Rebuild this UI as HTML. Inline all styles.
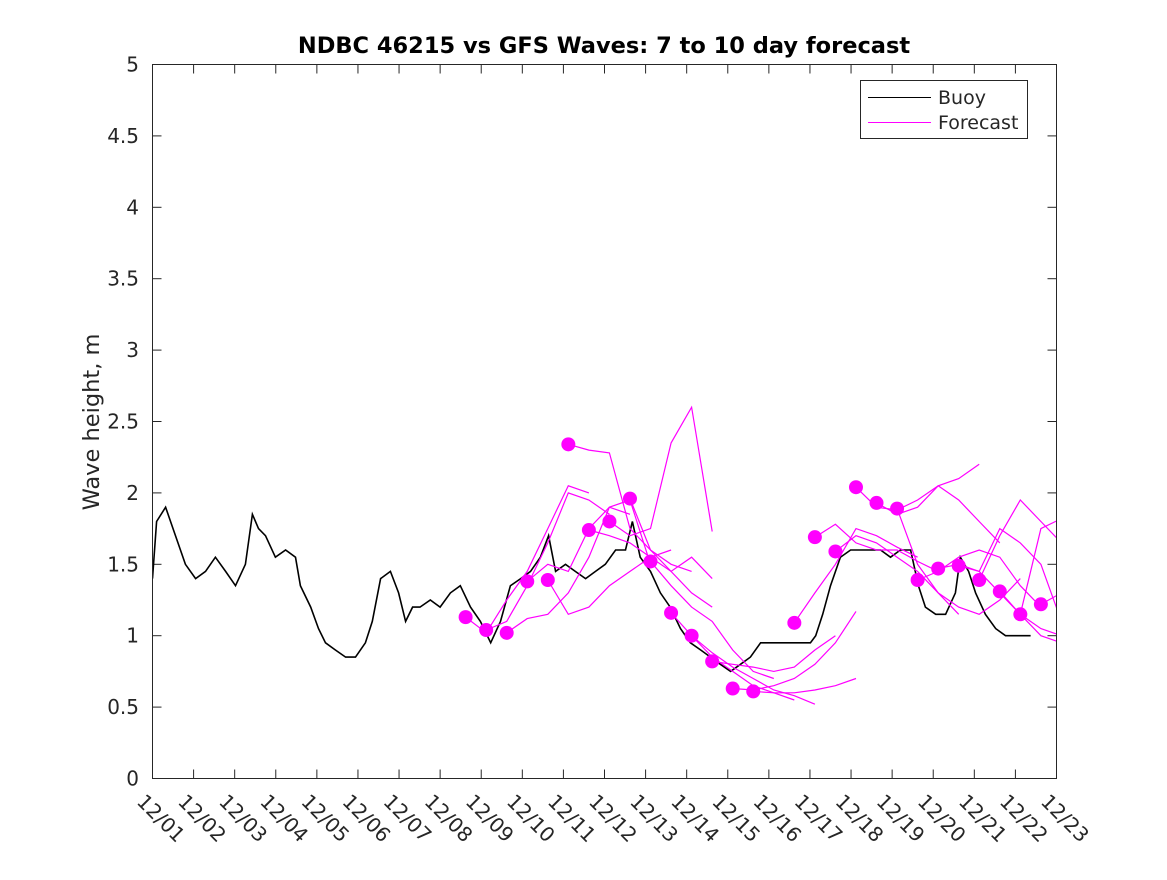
<!DOCTYPE html>
<html><head><meta charset="utf-8"><style>
body{margin:0;background:#fff;}
svg text{font-family:"DejaVu Sans","Liberation Sans",sans-serif;fill:#262626;}
</style></head><body>
<svg id="chart" width="1167" height="875" xmlns="http://www.w3.org/2000/svg">
<rect width="1167" height="875" fill="#fff"/>
<defs><clipPath id="clip"><rect x="152.5" y="64.5" width="904" height="714"/></clipPath></defs>
<text x="604" y="53" text-anchor="middle" font-size="22.5" font-weight="bold" style="fill:#000">NDBC 46215 vs GFS Waves: 7 to 10 day forecast</text>
<text transform="translate(99,422) rotate(-90)" text-anchor="middle" font-size="22.5">Wave height, m</text>
<g id="axes"></g>
<g id="series" clip-path="url(#clip)"></g>
<rect x="152.5" y="64.5" width="904" height="714" fill="none" stroke="#262626" stroke-width="1"/>
<g>
<rect x="860.5" y="80.5" width="167" height="58" fill="#fff" stroke="#262626"/>
<line x1="868" y1="97.5" x2="931" y2="97.5" stroke="#000"/>
<text x="938" y="104" font-size="19">Buoy</text>
<line x1="868" y1="122.5" x2="931" y2="122.5" stroke="#f0f"/>
<text x="938" y="129" font-size="19">Forecast</text>
</g>
</svg>
<script>
const xTickLabels=["12/01","12/02","12/03","12/04","12/05","12/06","12/07","12/08","12/09","12/10","12/11","12/12","12/13","12/14","12/15","12/16","12/17","12/18","12/19","12/20","12/21","12/22","12/23"];
const yTicks=[0,0.5,1,1.5,2,2.5,3,3.5,4,4.5,5];
const yTickLabels=["0","0.5","1","1.5","2","2.5","3","3.5","4","4.5","5"];
const buoyDays=[0,0.1,0.32,0.56,0.8,1.05,1.29,1.53,1.78,2.02,2.26,2.43,2.58,2.75,2.99,3.24,3.48,3.6,3.85,4.04,4.21,4.45,4.7,4.94,5.18,5.35,5.55,5.79,5.99,6.16,6.33,6.51,6.76,7.0,7.25,7.49,7.74,7.98,8.23,8.47,8.71,8.96,9.2,9.44,9.64,9.81,10.05,10.29,10.54,10.78,11.02,11.27,11.51,11.68,11.87,12.12,12.36,12.6,12.85,13.09,13.34,13.58,13.82,14.07,14.31,14.55,14.8,15.04,15.28,15.53,15.77,16.01,16.14,16.31,16.5,16.74,16.99,17.23,17.47,17.72,17.96,18.2,18.45,18.64,18.81,19.06,19.3,19.54,19.66,19.86,20.03,20.27,20.52,20.76,21.0,21.25,21.37];
const buoyValues=[1.4,1.8,1.9,1.7,1.5,1.4,1.45,1.55,1.45,1.35,1.5,1.85,1.75,1.7,1.55,1.6,1.55,1.35,1.2,1.05,0.95,0.9,0.85,0.85,0.95,1.1,1.4,1.45,1.3,1.1,1.2,1.2,1.25,1.2,1.3,1.35,1.2,1.1,0.95,1.1,1.35,1.4,1.45,1.55,1.7,1.45,1.5,1.45,1.4,1.45,1.5,1.6,1.6,1.8,1.55,1.45,1.3,1.2,1.05,0.95,0.9,0.85,0.8,0.75,0.8,0.85,0.95,0.95,0.95,0.95,0.95,0.95,1.0,1.15,1.35,1.55,1.6,1.6,1.6,1.6,1.55,1.6,1.6,1.35,1.2,1.15,1.15,1.3,1.55,1.45,1.3,1.15,1.05,1.0,1.0,1.0,1.0];
const forecastStart=7.62;
const forecastStep=0.5;
const dotValues=[1.13,1.04,1.02,1.38,1.39,2.34,1.74,1.80,1.96,1.52,1.16,1.00,0.82,0.63,0.61,null,1.09,1.69,1.59,2.04,1.93,1.89,1.39,1.47,1.49,1.39,1.31,1.15,1.22];
const forecastLines=[
[1.13,1.02,1.25,1.45,1.75,2.05,2.0],
[1.04,1.10,1.35,1.65,2.0,1.95,1.85],
[1.02,1.12,1.15,1.3,1.55,1.9,1.85],
[1.38,1.50,1.45,1.75,1.9,1.95,1.5],
[1.39,1.15,1.2,1.35,1.45,1.55,1.6],
[2.34,2.3,2.28,1.75,1.6,1.5,1.45],
[1.74,1.70,1.65,1.55,1.45,1.3,1.2],
[1.80,1.7,1.75,2.35,2.6,1.73],
[1.96,1.6,1.45,1.55,1.4],
[1.52,1.35,1.2,1.1,0.9,0.75,0.7],
[1.16,1.0,0.85,0.75,0.65,0.6,0.55],
[1.00,0.88,0.78,0.7,0.62,0.58,0.52],
[0.82,0.8,0.78,0.75,0.78,0.9,1.0],
[0.63,0.62,0.65,0.7,0.8,0.95,1.17],
[0.61,0.6,0.6,0.62,0.65,0.7],
null,
[1.09,1.3,1.5,1.75,1.7,1.62,1.55],
[1.69,1.78,1.65,1.6,1.6,1.52,1.45],
[1.59,1.7,1.65,1.55,1.45,1.3,1.15],
[2.04,1.9,1.88,1.95,2.05,2.1,2.2],
[1.93,1.85,1.9,2.05,1.95,1.8,1.65],
[1.89,1.5,1.3,1.2,1.15,1.25,1.4],
[1.39,1.45,1.55,1.6,1.55,1.35,1.2],
[1.47,1.5,1.45,1.75,1.65,1.5,1.1],
[1.49,1.45,1.3,1.15,1.0,0.95,1.0],
[1.39,1.7,1.95,1.8,1.65,2.1,1.3],
[1.31,1.15,1.05,1.0,1.05,1.15],
[1.15,1.75,1.82,1.76],
[1.22,1.3,1.42]
];
const NS="http://www.w3.org/2000/svg";
const X0=152.5,X1=1056.5,Y0=778.5,Y1=64.5;
function xs(d){return X0+(X1-X0)*d/22;}
function ys(v){return Y0-(Y0-Y1)*v/5;}
function mk(tag,attrs,parent){const e=document.createElementNS(NS,tag);for(const k in attrs)e.setAttribute(k,attrs[k]);parent.appendChild(e);return e;}
const axes=document.getElementById('axes'),series=document.getElementById('series');
xTickLabels.forEach((lab,i)=>{
  const x=xs(i);
  const t1=mk('line',{x1:x,x2:x,y1:Y0,y2:Y0-9,stroke:'#262626'},axes);
  
  
  const t2=mk('line',{x1:x,x2:x,y1:Y1,y2:Y1+9,stroke:'#262626'},axes);
  
  
  const tx=mk('text',{transform:`translate(${x-6},${792}) rotate(45)`,'font-size':'20','dominant-baseline':'hanging'},axes);
  tx.textContent=lab;
  
  
});
yTicks.forEach((v,i)=>{
  const y=ys(v);
  const t1=mk('line',{x1:X0,x2:X0+9,y1:y,y2:y,stroke:'#262626'},axes);
  
  
  const t2=mk('line',{x1:X1,x2:X1-9,y1:y,y2:y,stroke:'#262626'},axes);
  
  
  const tx=mk('text',{x:139,y:y+7,'text-anchor':'end','font-size':'20'},axes);
  tx.textContent=yTickLabels[i];
  
  
});
const bp=buoyValues.map((v,i)=>(i?'L':'M')+xs(buoyDays[i]).toFixed(1)+','+ys(v).toFixed(1)).join('');
const buoy=mk('path',{d:bp,fill:'none',stroke:'#000','stroke-width':'1.6'},series);


forecastLines.forEach((arr,i)=>{
  if(!arr)return;
  const t0=forecastStart+i*forecastStep;
  const d=arr.map((v,k)=>(k?'L':'M')+xs(t0+k*forecastStep).toFixed(1)+','+ys(v).toFixed(1)).join('');
  const p=mk('path',{d:d,fill:'none',stroke:'#f0f','stroke-width':'1.2'},series);
  
  
});
dotValues.forEach((v,i)=>{
  if(v===null)return;
  const c=mk('circle',{cx:xs(forecastStart+i*forecastStep),cy:ys(v),r:7,fill:'#f0f'},series);
  
  
});
</script>
</body></html>
